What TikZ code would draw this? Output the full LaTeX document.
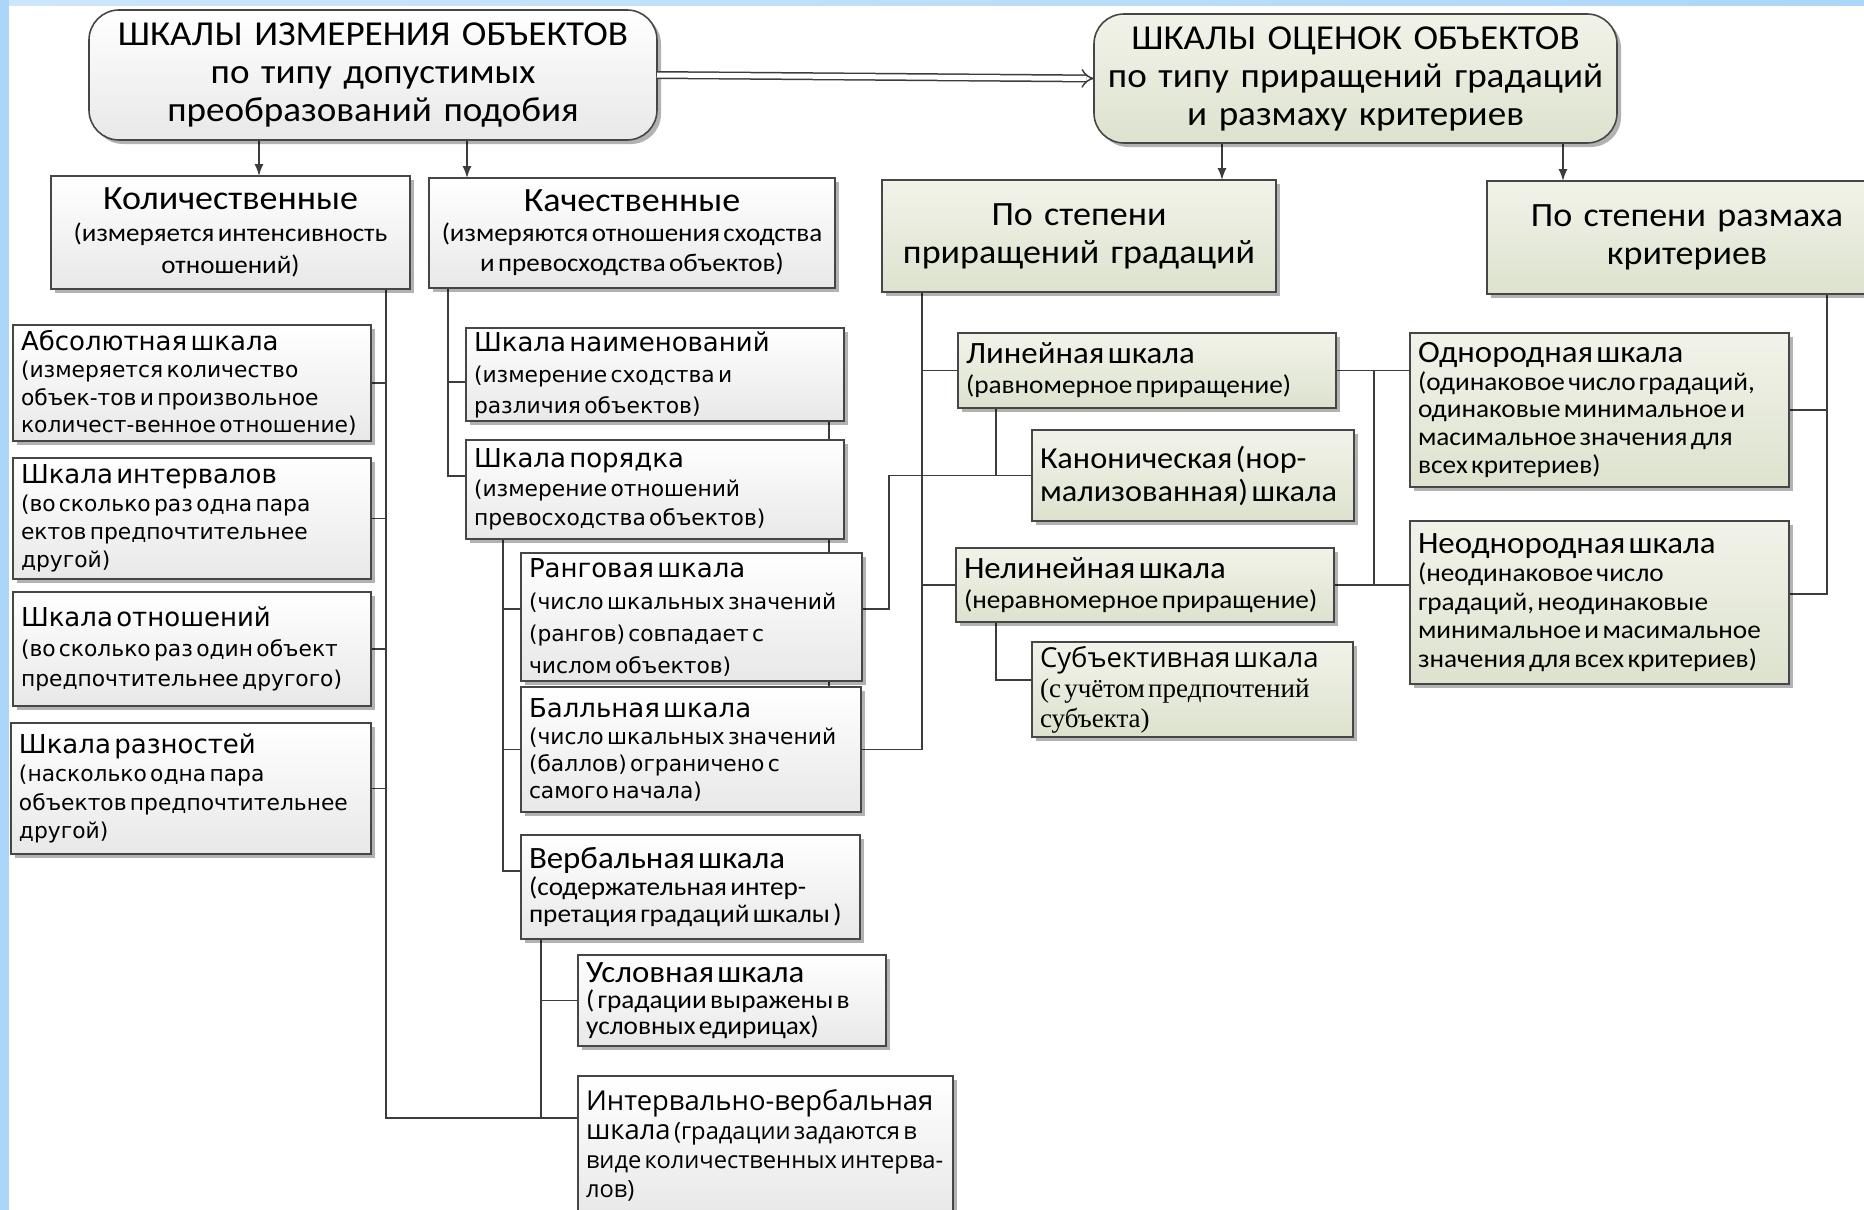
\documentclass[tikz,border=0pt]{standalone}
\usepackage{fontspec}
\setmainfont[FakeStretch=1.06]{Carlito}
\newfontfamily\fver{DejaVu Sans}
\newfontfamily\fseg{Open Sans}
\newfontfamily\ftim{Liberation Serif}
\newfontfamily\fcal[FakeStretch=1.06]{Carlito}
\usetikzlibrary{shadows,arrows.meta}
\pgfdeclarelayer{back}
\pgfdeclarelayer{bg}
\pgfsetlayers{back,bg,main}
\definecolor{boxline}{RGB}{70,70,70}
\definecolor{lineclr}{RGB}{60,60,60}
\definecolor{grtop}{RGB}{241,243,233}
\definecolor{grbot}{RGB}{221,226,206}
\definecolor{gytop}{RGB}{255,255,255}
\definecolor{gybot}{RGB}{232,232,232}
\definecolor{bluel}{RGB}{172,214,249}
\definecolor{bluet}{RGB}{205,230,250}
\newcommand\ttlV{\fver\fontsize{26}{28}\selectfont}
\newcommand\dscV[1]{\fver\fontsize{21.8}{#1}\selectfont}
\newcommand\ttlC{\fcal\fontsize{31}{33}\selectfont}
\newcommand\dscC[1]{\fcal\fontsize{25.7}{#1}\selectfont}
\tikzset{
  box/.style={draw=boxline, line width=1.6pt, anchor=north west, inner xsep=8pt, inner ysep=1pt, outer sep=0pt,
    drop shadow={shadow xshift=4pt, shadow yshift=-4pt, opacity=0.3, fill=black}},
  gbox/.style={box, top color=gytop, bottom color=gybot},
  ebox/.style={box, top color=grtop, bottom color=grbot},
  conn/.style={draw=lineclr, line width=1.5pt},
  arr/.style={conn, -{Latex[length=12pt,width=9pt]}},
  dbl/.style={draw=lineclr, line width=1.5pt, double=white, double distance=5pt, -{Implies}},
}
\begin{document}
\begin{tikzpicture}[x=1pt,y=-1pt]
\useasboundingbox (0,0) rectangle (1864,1210);
\clip (0,0) rectangle (1864,1210);
\begin{pgfonlayer}{back}
\fill[white] (0,0) rectangle (1864,1210);
\shade[left color=bluet, right color=bluel] (0,0) rectangle (1864,5);
\fill[bluel] (0,0) rectangle (9,1210);
\end{pgfonlayer}

% top level
\node[gbox, rounded corners=30pt, minimum width=568pt, minimum height=130pt, text width=552pt, align=center,
  font=\fontsize{35}{38}\selectfont] (tl) at (89,10)
  {ШКАЛЫ ИЗМЕРЕНИЯ ОБЪЕКТОВ\\по типу допустимых\\преобразований подобия\par};
\node[ebox, rounded corners=30pt, minimum width=523pt, minimum height=129pt, text width=507pt, align=center,
  font=\fontsize{35}{38}\selectfont] (tr) at (1094,14)
  {ШКАЛЫ ОЦЕНОК ОБЪЕКТОВ\\по типу приращений градаций\\и размаху критериев\par};

% second level
\node[gbox, minimum width=359pt, minimum height=113pt, text width=343pt, align=center] (kol) at (51,176)
  {{\fontsize{34}{36}\selectfont Количественные\par}\fontsize{25.5}{32}\selectfont (измеряется интенсивность\\отношений)\par};
\node[gbox, minimum width=406pt, minimum height=110pt, text width=390pt, align=center] (kach) at (429,178)
  {{\fontsize{34}{36}\selectfont Качественные\par}\fontsize{25.5}{30}\selectfont (измеряются отношения сходства\\и превосходства объектов)\par};
\node[ebox, minimum width=394pt, minimum height=112pt, text width=378pt, align=center,
  font=\fontsize{34}{38}\selectfont] (ps1) at (882,180) {По степени\\приращений градаций\par};
\node[ebox, minimum width=400pt, minimum height=113pt, text width=384pt, align=center,
  font=\fontsize{34}{38}\selectfont] (ps2) at (1487,181) {По степени размаха\\критериев\par};

% quantitative
\node[gbox, minimum width=358pt, minimum height=116pt, text width=342pt, align=left] (abs) at (13,325)
  {{\ttlV Абсолютная шкала\par}\dscV{27.4} (измеряется количество\\объек-тов и произвольное\\количест-венное отношение)\par};
\node[gbox, minimum width=358pt, minimum height=121pt, text width=342pt, align=left] (int) at (13,458)
  {{\ttlV Шкала интервалов\par}\dscV{28} (во сколько раз одна пара\\ектов предпочтительнее\\другой)\par};
\node[gbox, minimum width=358pt, minimum height=114pt, text width=342pt, align=left] (otn) at (13,592)
  {{\ttlV Шкала отношений\par}\dscV{30} (во сколько раз один объект\\предпочтительнее другого)\par};
\node[gbox, minimum width=360pt, minimum height=131pt, text width=344pt, align=left] (raz) at (11,723)
  {{\ttlV Шкала разностей\par}\dscV{28.5} (насколько одна пара\\объектов предпочтительнее\\другой)\par};

% qualitative
\node[gbox, minimum width=378pt, minimum height=93pt, text width=362pt, align=left] (naim) at (466,328)
  {{\ttlV Шкала наименований\par}\dscV{31} (измерение сходства и\\различия объектов)\par};
\node[gbox, minimum width=378pt, minimum height=99pt, text width=362pt, align=left] (por) at (466,440)
  {{\ttlV Шкала порядка\par}\dscV{29} (измерение отношений\\превосходства объектов)\par};
\node[gbox, minimum width=341pt, minimum height=128pt, text width=325pt, align=left] (rang) at (521,553)
  {{\ttlV Ранговая шкала\par}\dscV{32} (число шкальных значений\\(рангов) совпадает с\\числом объектов)\par};
\node[gbox, minimum width=340pt, minimum height=125pt, text width=324pt, align=left] (ball) at (521,687)
  {{\ttlV Балльная шкала\par}\dscV{27} (число шкальных значений\\(баллов) ограничено с\\самого начала)\par};
\node[gbox, minimum width=339pt, minimum height=104pt, text width=323pt, align=left] (verb) at (521,835)
  {{\ttlC Вербальная шкала\par}\dscC{27} (содержательная интер-\\претация градаций шкалы )\par};
\node[gbox, minimum width=308pt, minimum height=91pt, text width=292pt, align=left] (usl) at (578,955)
  {{\ttlC Условная шкала\par}\dscC{26} ( градации выражены в\\условных едирицах)\par};
\node[gbox, minimum width=375pt, minimum height=139pt, text width=359pt, align=left] (iv) at (578,1076)
  {\fseg\fontsize{23.7}{29}\selectfont{\fontsize{27.4}{29}\selectfont Интервально-вербальная\\шкала} (градации задаются в\\виде количественных интерва-\\лов)\par};

% evaluation scales
\node[ebox, minimum width=378pt, minimum height=75pt, text width=362pt, align=left] (lin) at (958,333)
  {{\ttlC Линейная шкала\par}\dscC{30} (равномерное приращение)\par};
\node[ebox, minimum width=322pt, minimum height=91pt, text width=306pt, align=left] (kan) at (1032,430)
  {\fcal\fontsize{30.5}{33}\selectfont Каноническая (нор-\\мализованная) шкала\par};
\node[ebox, minimum width=378pt, minimum height=74pt, text width=362pt, align=left] (nelin) at (956,548)
  {{\ttlC Нелинейная шкала\par}\dscC{30} (неравномерное приращение)\par};
\node[ebox, minimum width=321pt, minimum height=95pt, text width=305pt, align=left] (subj) at (1032,642)
  {{\fseg\fontsize{27.5}{29}\selectfont Субъективная шкала\par}\ftim\fontsize{27}{30}\selectfont (с учётом предпочтений\\субъекта)\par};
\node[ebox, minimum width=379pt, minimum height=154pt, text width=363pt, align=left] (odn) at (1410,333)
  {{\ttlC Однородная шкала\par}\dscC{27.7} (одинаковое число градаций,\\одинаковые минимальное и\\масимальное значения для\\всех критериев)\par};
\node[ebox, minimum width=379pt, minimum height=163pt, text width=363pt, align=left] (neodn) at (1410,521)
  {{\ttlC Неоднородная шкала\par}\dscC{28.5} (неодинаковое число\\градаций, неодинаковые\\минимальное и масимальное\\значения для всех критериев)\par};

% helper coordinates
\coordinate (a1) at (259,0);
\coordinate (a2) at (467,0);
\coordinate (a3) at (1222,0);
\coordinate (a4) at (1563,0);
\coordinate (kx) at (386,0);
\coordinate (qx) at (448,0);
\coordinate (px) at (503,0);
\coordinate (vx) at (541,0);
\coordinate (rx) at (889,0);
\coordinate (sx) at (922,0);
\coordinate (lx) at (996,0);
\coordinate (jx) at (1374,0);
\coordinate (ex) at (1827,0);
\coordinate (ivj) at ([yshift=-42pt]iv.north west);
\coordinate (naimj) at ([yshift=-54pt]naim.north west);
\coordinate (porj) at ([yshift=-36pt]por.north west);
\coordinate (verbj) at ([yshift=-36pt]verb.north west);
\coordinate (rangj) at ([yshift=-56pt]rang.north west);
\coordinate (rangjE) at ([yshift=-56pt]rang.north east);
\coordinate (subjj) at ([yshift=-38pt]subj.north west);
\coordinate (neodnj) at ([yshift=-73pt]neodn.north east);
\coordinate (hid) at ([xshift=-15pt]naim.south east);

\begin{pgfonlayer}{bg}
% arrows from top boxes
\draw[arr] (tl.south -| a1) -- (kol.north -| a1);
\draw[arr] (tl.south -| a2) -- (kach.north -| a2);
\draw[arr] (tr.south -| a3) -- (ps1.north -| a3);
\draw[arr] (tr.south -| a4) -- (ps2.north -| a4);
% quantitative
\draw[conn] (kx |- kol.south) |- (ivj);
\draw[conn] (kx |- abs.east) -- (abs.east);
\draw[conn] (kx |- int.east) -- (int.east);
\draw[conn] (kx |- otn.east) -- (otn.east);
\draw[conn] (kx |- raz.east) -- (raz.east);
% qualitative
\draw[conn] (qx |- kach.south) |- (porj);
\draw[conn] (qx |- naimj) -- (naimj);
\draw[conn] (px |- por.south) |- (verbj);
\draw[conn] (px |- rangj) -- (rangj);
\draw[conn] (px |- ball.west) -- (ball.west);
\draw[conn] (vx |- verb.south) -- (vx |- ivj);
\draw[conn] (vx |- usl.west) -- (usl.west);
\draw[conn] (hid) -- (hid |- ball.north);
% cross links
\draw[conn] (rangjE) -| (rx |- kan.west) -- (kan.west);
\draw[conn] (sx |- ps1.south) |- (ball.east);
\draw[conn] (sx |- lin.west) -- (lin.west);
\draw[conn] (sx |- nelin.west) -- (nelin.west);
\draw[conn] (lx |- lin.south) -- (lx |- kan.west);
\draw[conn] (lx |- nelin.south) |- (subjj);
\draw[conn] (lin.east) -- (lin.east -| odn.west);
\draw[conn] (nelin.east) -- (nelin.east -| neodn.west);
\draw[conn] (jx |- lin.east) -- (jx |- nelin.east);
\draw[conn] (ex |- ps2.south) |- (neodnj);
\draw[conn] (ex |- odn.east) -- (odn.east);
\end{pgfonlayer}
\draw[dbl] (tl.east) -- (tr.west);
\end{tikzpicture}
\end{document}
